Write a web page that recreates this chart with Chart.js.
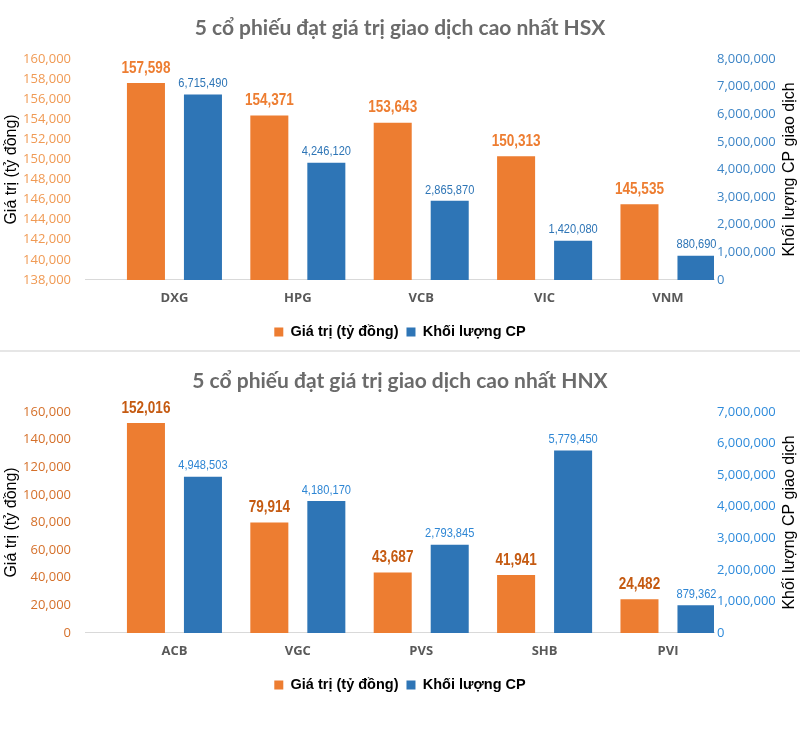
<!DOCTYPE html>
<html>
<head>
<meta charset="utf-8">
<script src="https://cdn.jsdelivr.net/npm/chart.js@4.4.1/dist/chart.umd.min.js"></script>
<style>
html, body { margin: 0; padding: 0; background: #fff; }
#wrap { width: 800px; height: 729px; position: relative; }
canvas { display: block; position: absolute; left: 0; }
#c1 { top: 0; }
#sep { position: absolute; left: 0; top: 350px; width: 800px; height: 2px; background: #e6e6e6; }
#c2 { top: 353px; }
</style>
</head>
<body>
<div id="wrap">
  <canvas id="c1" width="800" height="350"></canvas>
  <div id="sep"></div>
  <canvas id="c2" width="800" height="350"></canvas>
</div>
<script>
// HSX
const hsxTickers = ['DXG', 'HPG', 'VCB', 'VIC', 'VNM'];
const hsxValue = [157598, 154371, 153643, 150313, 145535];
const hsxVolume = [6715490, 4246120, 2865870, 1420080, 880690];

// HNX
const hnxTickers = ['ACB', 'VGC', 'PVS', 'SHB', 'PVI'];
const hnxValue = [152016, 79914, 43687, 41941, 24482];
const hnxVolume = [4948503, 4180170, 2793845, 5779450, 879362];

const seriesNames = ['Giá trị (tỷ đồng)', 'Khối lượng CP'];

Chart.defaults.font.family = '"Open Sans", sans-serif';

const arial = '"Liberation Sans", Arial, sans-serif';
const fmt = v => Number(v).toLocaleString('en-US');

// value labels above the bars (squeezed a bit, the original uses a narrow face)
const barLabels = {
  id: 'barLabels',
  afterDatasetsDraw(chart, args, opts) {
    const ctx = chart.ctx;
    chart.data.datasets.forEach((ds, i) => {
      const st = opts.styles[i];
      chart.getDatasetMeta(i).data.forEach((bar, j) => {
        ctx.save();
        ctx.translate(bar.x, bar.y - st.gap);
        ctx.scale(0.82, 1);
        ctx.font = st.font;
        ctx.fillStyle = st.color;
        ctx.textAlign = 'center';
        ctx.textBaseline = 'middle';
        ctx.fillText(fmt(ds.data[j].y), 0, 0);
        ctx.restore();
      });
    });
  }
};

// right axis title, reading bottom to top like the left one
const rightTitle = {
  id: 'rightTitle',
  afterDraw(chart, args, opts) {
    const { ctx, chartArea } = chart;
    ctx.save();
    ctx.translate(opts.x, (chartArea.top + chartArea.bottom) / 2);
    ctx.rotate(-Math.PI / 2);
    ctx.font = opts.font;
    ctx.fillStyle = '#000';
    ctx.textAlign = 'center';
    ctx.textBaseline = 'middle';
    ctx.fillText(opts.text, 0, 0);
    ctx.restore();
  }
};

function build(id, cfg) {
  const idx = cfg.tickers.map((t, i) => i);
  return new Chart(document.getElementById(id), {
    type: 'bar',
    data: {
      datasets: [
        {
          label: seriesNames[0],
          data: idx.map(i => ({ x: i, y: cfg.value[i] })),
          backgroundColor: '#ed7d31',
          yAxisID: 'y'
        },
        {
          label: seriesNames[1],
          data: idx.map(i => ({ x: i, y: cfg.volume[i] })),
          backgroundColor: '#2e75b6',
          yAxisID: 'y1'
        }
      ]
    },
    options: {
      responsive: false,
      animation: false,
      devicePixelRatio: 1,
      layout: { padding: { top: 0, left: 0, right: 0, bottom: 0.75 } },
      datasets: { bar: { categoryPercentage: 0.924, barPercentage: 0.667 } },
      scales: {
        x: {
          type: 'linear',
          offset: false,
          min: -0.725,
          max: 4.373,
          grid: { display: false, drawTicks: false },
          border: { display: true, color: '#d9d9d9', width: 1 },
          afterBuildTicks: s => { s.ticks = idx.map(v => ({ value: v })); },
          ticks: {
            padding: 10.6,
            color: '#595959',
            font: { size: 13, weight: 'bold' },
            callback: v => cfg.tickers[v] ?? ''
          }
        },
        y: {
          position: 'left',
          min: cfg.leftMin,
          max: cfg.leftMax,
          grid: { display: false, drawTicks: false },
          border: { display: false },
          ticks: { autoSkip: false, stepSize: cfg.leftStep, padding: 14, color: cfg.leftTick, font: { size: 13 }, callback: fmt },
          title: {
            display: true,
            text: 'Giá trị (tỷ đồng)',
            color: '#000',
            font: { family: arial, size: 16 },
            padding: { top: 1.5, bottom: 0 }
          },
          afterFit: s => { s.width = 85; }
        },
        y1: {
          position: 'right',
          min: 0,
          max: cfg.rightMax,
          grid: { display: false, drawTicks: false },
          border: { display: false },
          ticks: { autoSkip: false, stepSize: 1000000, padding: 3, color: cfg.rightTick, font: { size: 13 }, callback: fmt },
          afterFit: s => { s.width = 86; }
        }
      },
      plugins: {
        title: {
          display: true,
          text: cfg.title,
          color: '#6b6b6b',
          font: { family: 'Lato, sans-serif', size: 21, weight: 'bold' },
          padding: { top: 15.4, bottom: 18.4 }
        },
        legend: {
          position: 'bottom',
          labels: {
            boxWidth: 9,
            boxHeight: 9,
            padding: 8,
            color: '#000',
            font: { family: arial, size: 14.5, weight: 'bold' }
          }
        },
        tooltip: { enabled: false },
        barLabels: {
          styles: [
            { font: 'bold 16.5px ' + arial, color: cfg.valueLabel, gap: 15 },
            { font: '13.5px ' + arial, color: cfg.volumeLabel, gap: 11 }
          ]
        },
        rightTitle: {
          x: 790,
          text: 'Khối lượng CP giao dịch',
          font: '16px ' + arial
        }
      }
    },
    plugins: [barLabels, rightTitle]
  });
}

build('c1', {
  title: '5 cổ phiếu đạt giá trị giao dịch cao nhất HSX',
  tickers: hsxTickers, value: hsxValue, volume: hsxVolume,
  leftMin: 138000, leftMax: 160000, leftStep: 2000, rightMax: 8000000,
  leftTick: '#f09a54', rightTick: '#3d85c6',
  valueLabel: '#ed7d31', volumeLabel: '#2e75b6'
});

build('c2', {
  title: '5 cổ phiếu đạt giá trị giao dịch cao nhất HNX',
  tickers: hnxTickers, value: hnxValue, volume: hnxVolume,
  leftMin: 0, leftMax: 160000, leftStep: 20000, rightMax: 7000000,
  leftTick: '#d5702a', rightTick: '#2e8bdb',
  valueLabel: '#c55a11', volumeLabel: '#2e86d4'
});
</script>
</body>
</html>
